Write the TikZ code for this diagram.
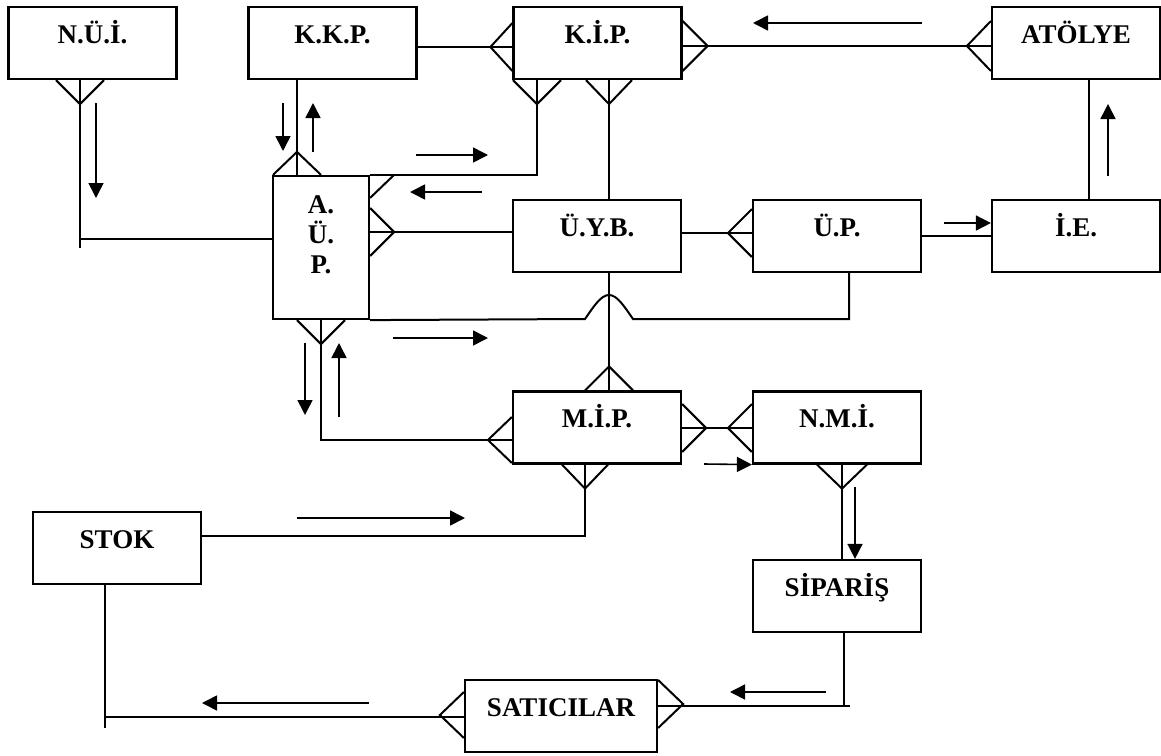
\documentclass[tikz,border=0pt]{standalone}
\usepackage{fontspec}
\setmainfont{Liberation Serif}
\usetikzlibrary{arrows.meta,calc}
% crow's foot: #1 point on the box edge, #2 tip offset, #3 half spread
\newcommand{\crowfoot}[3]{%
  \draw[link] ($#1+#3$) -- ($#1+#2$) -- ($#1-#3$);}

\begin{document}
\begin{tikzpicture}[x=0.5pt,y=-0.5pt,
  ent/.style={draw,line width=1.1pt,minimum width=84pt,minimum height=36pt,inner sep=0pt,
    font=\fontsize{13.5}{15}\selectfont\bfseries,text height=9pt,text depth=9pt},
  link/.style={line width=1pt},
  flow/.style={line width=0.8pt,-{Triangle[length=7.5pt,width=7.5pt]}}]
  \useasboundingbox (0,0) rectangle (1161,755);
  % boxes
  \node[ent] (nui) at (92.5,43) {N.Ü.İ.};
  \node[ent] (kkp) at (332.5,43) {K.K.P.};
  \node[ent] (kip) at (597.5,43) {K.İ.P.};
  \node[ent] (atolye) at (1076,43) {ATÖLYE};
  \node[ent,minimum width=48pt,minimum height=71.5pt] (aup) at (321,247.5) {};
  \node[font=\fontsize{13.5}{15}\selectfont\bfseries,align=center,inner sep=0pt] (aupt) at (321,235) {A.\\Ü.\\P.};
  \node[ent] (uyb) at (597,236) {Ü.Y.B.};
  \node[ent] (up) at (837,236) {Ü.P.};
  \node[ent] (ie) at (1076,236) {İ.E.};
  \node[ent] (mip) at (597,427.5) {M.İ.P.};
  \node[ent] (nmi) at (837,427.5) {N.M.İ.};
  \node[ent] (siparis) at (837,596) {SİPARİŞ};
  \node[ent,minimum width=96pt] (saticilar) at (561,716) {SATICILAR};
  \node[ent] (stok) at (117,548) {STOK};

  % N.Ü.İ. - A.Ü.P.
  \draw[link] (nui.south -| 80,0) -- (80,248) (80,239) -- (aup.west |- 0,239);
  \crowfoot{(nui.south -| 80,0)}{(0,24)}{(24,0)}
  \draw[flow] (96,103) -- (96,198);
  % K.K.P. - A.Ü.P.
  \draw[link] (kkp.south -| 297,0) -- (aup.north -| 297,0);
  \crowfoot{(aup.north -| 297,0)}{(0,-23)}{(24,0)}
  \draw[flow] (283,103) -- (283,151);
  \draw[flow] (313,152) -- (313,103);
  % K.K.P. - K.İ.P.
  \draw[link] (kkp.east |- 0,47) -- (kip.west |- 0,47);
  \crowfoot{(kip.west |- 0,47)}{(-22,0)}{(0,24)}
  % K.İ.P. - ATÖLYE
  \draw[link] (kip.east |- 0,46) -- (atolye.west |- 0,46);
  \crowfoot{(kip.east |- 0,46)}{(25,0)}{(0,25)}
  \crowfoot{(atolye.west |- 0,46)}{(-24,0)}{(0,25)}
  \draw[flow] (922,23) -- (753,23);
  % K.İ.P. - A.Ü.P.
  \draw[link] (kip.south -| 537,0) |- (aup.north east);
  \crowfoot{(kip.south -| 537,0)}{(0,24)}{(24,0)}
  \draw[link] ([xshift=12pt]aup.north east) -- ([yshift=-11.5pt]aup.north east);
  \draw[flow] (416,155) -- (488,155);
  \draw[flow] (482,192) -- (410,192);
  % K.İ.P. - Ü.Y.B.
  \draw[link] (kip.south -| 609,0) -- (uyb.north -| 609,0);
  \crowfoot{(kip.south -| 609,0)}{(0,24)}{(23,0)}
  % A.Ü.P. - Ü.Y.B.
  \draw[link] (aup.east |- 0,232) -- (uyb.west |- 0,232);
  \crowfoot{(aup.east |- 0,232)}{(24,0)}{(0,24)}
  % Ü.Y.B. - Ü.P.
  \draw[link] (uyb.east |- 0,233) -- (up.west |- 0,233);
  \crowfoot{(up.west |- 0,233)}{(-24,0)}{(0,24)}
  % Ü.P. - İ.E.
  \draw[link] (up.east |- 0,236) -- (ie.west |- 0,236);
  \draw[flow] (944,223) -- (ie.west |- 0,223);
  % İ.E. - ATÖLYE
  \draw[link] (ie.north -| 1089,0) -- (atolye.south -| 1089,0);
  \draw[flow] (1108,176) -- (1108,104);
  % Ü.P. - A.Ü.P., jumping over the Ü.Y.B. line
  \draw[link] (up.south -| 849,0) |- (633,319)
    .. controls (624,306) and (617,295) .. (609,295)
    .. controls (601,295) and (594,306) .. (585,319) -- (aup.south east);
  \draw[flow] (393,338) -- (488,338);
  % A.Ü.P. - M.İ.P.
  \draw[link] (aup.south) |- (mip.west |- 0,440);
  \crowfoot{(aup.south)}{(0,24)}{(24,0)}
  \crowfoot{(mip.west |- 0,440)}{(-24,0)}{(0,23)}
  \draw[flow] (305,343) -- (305,415);
  \draw[flow] (339,417) -- (339,343);
  % Ü.Y.B. - M.İ.P.
  \draw[link] (uyb.south -| 609,0) -- (mip.north -| 609,0);
  \crowfoot{(mip.north -| 609,0)}{(0,-24)}{(24,0)}
  % M.İ.P. - N.M.İ.
  \draw[link] (mip.east |- 0,428) -- (nmi.west |- 0,428);
  \crowfoot{(mip.east |- 0,428)}{(24,0)}{(0,24)}
  \crowfoot{(nmi.west |- 0,428)}{(-24,0)}{(0,24)}
  \draw[flow] (704,464) -- (nmi.south west);
  % M.İ.P. - STOK
  \draw[link] (mip.south -| 585,0) |- (stok.east |- 0,536);
  \crowfoot{(mip.south -| 585,0)}{(0,24)}{(23,0)}
  \draw[flow] (297,518) -- (465,518);
  % N.M.İ. - SİPARİŞ
  \draw[link] (nmi.south -| 842,0) -- (siparis.north -| 842,0);
  \crowfoot{(nmi.south -| 842,0)}{(0,24)}{(25,0)}
  \draw[flow] (855,487) -- (siparis.north -| 855,0);
  % SİPARİŞ - SATICILAR
  \draw[link] (siparis.south -| 844,0) -- (844,706) (850,706) -- (saticilar.east |- 0,706);
  \crowfoot{(saticilar.east |- 0,704)}{(25,0)}{(0,24)}
  \draw[flow] (826,692) -- (730,692);
  % SATICILAR - STOK
  \draw[link] (saticilar.west |- 0,717) -- (105,717) (stok.south -| 105,0) -- (105,728);
  \crowfoot{(saticilar.west |- 0,715)}{(-24,0)}{(0,23)}
  \draw[flow] (369,703) -- (202,703);
\end{tikzpicture}
\end{document}
